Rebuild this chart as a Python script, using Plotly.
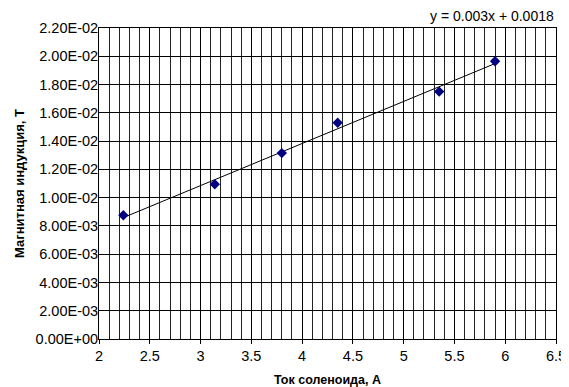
import numpy as np
import plotly.graph_objects as go

current = [2.24, 3.14, 3.80, 4.35, 5.35, 5.90]
induction = [0.00875, 0.01095, 0.01315, 0.01530, 0.01750, 0.01965]
y_ticks = [i * 0.002 for i in range(12)]
y_ticklabels = [f"{v:.2E}" for v in y_ticks]
x_ticks = [2, 2.5, 3, 3.5, 4, 4.5, 5, 5.5, 6, 6.5]
x_ticklabels = ["2", "2.5", "3", "3.5", "4", "4.5", "5", "5.5", "6", "6.5"]
equation = "y = 0.003x + 0.0018"

slope, intercept = np.polyfit(current, induction, 1)
fit_x = [min(current), max(current)]
fit_y = [slope * v + intercept for v in fit_x]

fig = go.Figure()
fig.add_trace(go.Scatter(x=fit_x, y=fit_y, mode="lines",
                         line=dict(color="black", width=1), showlegend=False))
fig.add_trace(go.Scatter(x=current, y=induction, mode="markers",
                         marker=dict(symbol="diamond", size=8, color="#000080"),
                         showlegend=False))

# the page body has an 8px default margin, so the figure is sized to fit
fig.update_layout(
    width=561, height=379,
    margin=dict(l=91, r=13, t=20, b=48),
    paper_bgcolor="white", plot_bgcolor="white",
    font=dict(family="Liberation Sans, Arial, sans-serif", size=13, color="black"),
    annotations=[dict(text=equation, xref="paper", yref="paper", x=1.0, y=1.0,
                      xanchor="right", yanchor="bottom", yshift=2, showarrow=False,
                      font=dict(size=14))],
)
fig.update_xaxes(
    range=[2, 6.5], tickvals=x_ticks, ticktext=x_ticklabels, automargin=False,
    showgrid=True, gridcolor="black", gridwidth=1,
    minor=dict(dtick=0.1, showgrid=True, gridcolor="#222", gridwidth=1, ticks=""),
    showline=True, linecolor="black", linewidth=1, mirror=True,
    ticks="outside", ticklen=4, tickcolor="black", zeroline=False,
    tickfont=dict(size=14.5),
    title=dict(text="<b>Ток соленоида, А</b>", font=dict(size=12.5), standoff=16),
)
fig.update_yaxes(
    range=[0, 0.022], tickvals=y_ticks, ticktext=y_ticklabels, automargin=False,
    showgrid=True, gridcolor="black", gridwidth=1,
    showline=True, linecolor="black", linewidth=1, mirror=True,
    ticks="", tickcolor="black", zeroline=False, ticklabelstandoff=-3,
    tickfont=dict(size=14.5),
    title=dict(text="<b>Магнитная индукция, Т</b>", font=dict(size=13), standoff=8),
)

fig.write_html("out.html")
